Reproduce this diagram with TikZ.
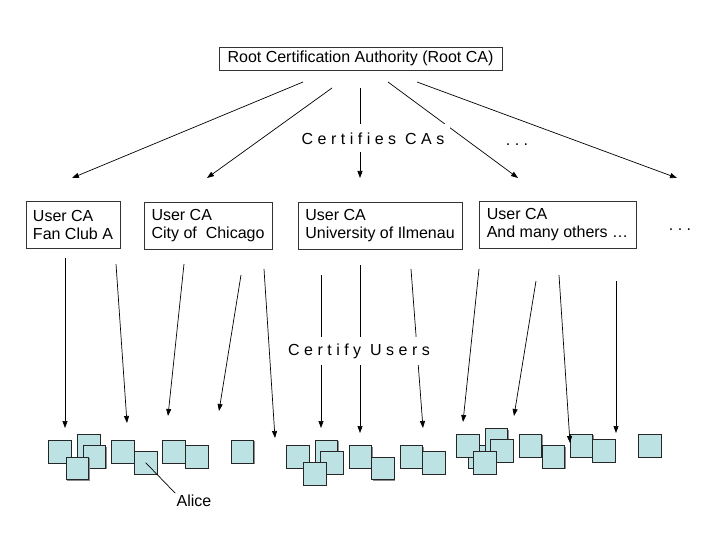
\documentclass[tikz,border=0pt]{standalone}
\usepackage{fontspec}
\setmainfont{Liberation Sans}
\newfontfamily\spacedfont[LetterSpace=28]{Liberation Sans}
\usetikzlibrary{arrows.meta, positioning, shadows}
\definecolor{cframe}{HTML}{333333}
\definecolor{cuser}{HTML}{BCE2E4}
\definecolor{cshade}{HTML}{8C8C8C}
\tikzset{
  every picture/.style={x=1pt, y=-1pt, font=\fontsize{16}{18}\selectfont, line width=0.8pt},
  rootbox/.style={draw=cframe, line width=0.9pt, inner sep=0pt, minimum width=283pt, minimum height=23pt},
  cabox/.style={draw=cframe, line width=0.9pt, align=left, inner sep=0pt, minimum height=47pt, minimum width=#1},
  user/.style={draw=black!85, fill=cuser, line width=0.8pt, minimum size=22.5pt, inner sep=0pt, anchor=north west,
    drop shadow={shadow xshift=1pt, shadow yshift=-1pt, fill=cshade, opacity=1}},
  arrow/.style={-{Triangle[length=7pt, width=5pt]}, draw=black, line width=0.7pt},
  tag/.style={font=\spacedfont\fontsize{16}{18}\selectfont, fill=white, inner xsep=6pt, inner ysep=0pt, minimum height=28pt},
}

\begin{document}
\begin{tikzpicture}
  \useasboundingbox (0,0) rectangle (720,540);
  % root and user CAs
  \node[rootbox] (root) at (360.5,58.5) {Root Certification Authority (Root CA)};
  \node[cabox=94pt] (fan) at (73,224.5) {User CA\\Fan Club A};
  \node[cabox=128pt] (chicago) at (208,225.5) {User CA\\City of\ \ Chicago};
  \node[cabox=164pt] (ilmenau) at (380,225.5) {User CA\\University of Ilmenau};
  \node[cabox=157pt] (others) at (557.5,224.5) {User CA\\And many others …};
  \node[font=\spacedfont\fontsize{16}{18}\selectfont] (moreca) at (680,230) {...};

  % users
  \foreach \n/\x/\y in {1/48.3/440, 2/77.3/434.3, 3/82.7/445.3, 4/65.7/456.7, 5/111/440, 6/134/451,
      7/162.3/440, 8/185/445.3, 9/230.7/440, 10/286.3/445.3, 11/314.7/440, 12/320/451, 13/303.3/462.3,
      14/348.7/445.3, 15/371.3/456.7, 16/399.7/445.3, 17/422.3/451, 18/467.7/445, 19/456.3/434,
      20/484.7/428.3, 21/490.3/439.3, 22/473.3/451, 23/518.7/434, 24/541.7/445.3, 25/569.7/434,
      26/592.3/439.3, 27/638.3/434}
    \node[user] (u\n) at (\x,\y) {};

  % root certifies CAs
  \foreach \n/\xa/\ya/\xb/\yb in {1/303/82/72/178, 2/332/88/207/178, 3/360/88/360/178,
      4/388/82/518/178, 5/417/82/677/178} {
    \coordinate (rs\n) at (\xa,\ya);
    \coordinate (re\n) at (\xb,\yb);
    \draw[arrow] (rs\n) -- (re\n);
  }
  % CAs certify users
  \foreach \n/\xa/\ya/\xb/\yb in {1/65/258/65/428, 2/116/264/127/423, 3/184/264/168/416,
      4/241/275/219/411, 5/264/269/275/438, 6/321/275/321/428, 7/360/265/360/433,
      8/411/269/423/428, 9/479/269/463/422, 10/536/281/514/416, 11/559/275/570/443,
      12/616/281/616/433} {
    \coordinate (cs\n) at (\xa,\ya);
    \coordinate (ce\n) at (\xb,\yb);
    \draw[arrow] (cs\n) -- (ce\n);
  }

  \node[tag] (certca) at (373,138.5) {Certifies CAs};
  \node[font=\spacedfont\fontsize{16}{18}\selectfont] (morearr) at (517,145) {...};
  \node[tag] (certuser) at (359,351) {Certify Users};

  \node[inner sep=1pt] (alice) at (194,500.5) {Alice};
  \draw[line width=0.7pt] (u6.center) -- (alice.north west);
\end{tikzpicture}
\end{document}
